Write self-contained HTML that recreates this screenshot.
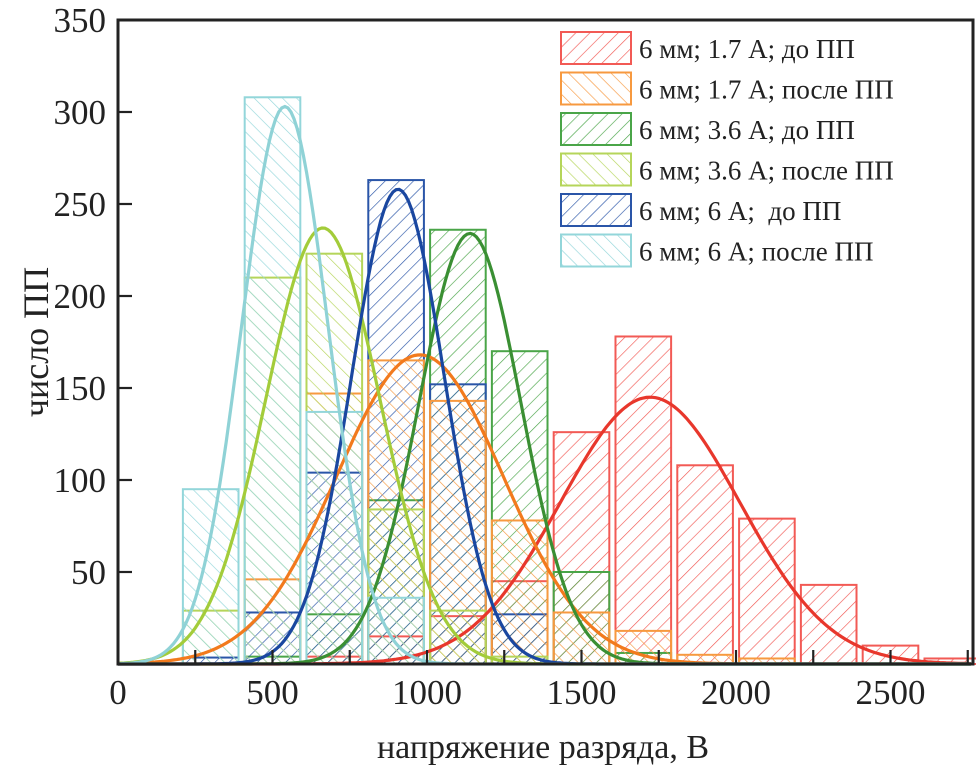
<!DOCTYPE html>
<html><head><meta charset="utf-8">
<style>
html,body{margin:0;padding:0;background:#fff;}
svg{display:block;font-family:"Liberation Serif",serif;}
</style></head>
<body>
<svg id="chart" width="976" height="772" viewBox="0 0 976 772" xmlns="http://www.w3.org/2000/svg">
<defs id="defs"></defs>
<g id="bars"></g>
<g id="curves"></g>
<g id="axes"></g>
<g id="legend"></g>
<text x="0" y="0" transform="translate(48,342) rotate(-90)" text-anchor="middle" font-size="36" fill="#222">число ПП</text>
<text x="543" y="758" text-anchor="middle" font-size="34" fill="#222">напряжение разряда, В</text>
</svg>
<script>
// ---- data ----
const binCenters = [300,500,700,900,1100,1300,1500,1700,1900,2100,2300,2500,2700];
const seriesNames = ["6 мм; 1.7 А; до ПП","6 мм; 1.7 А; после ПП","6 мм; 3.6 А; до ПП","6 мм; 3.6 А; после ПП","6 мм; 6 А;  до ПП","6 мм; 6 А; после ПП"];
const red1_7   = [0,0,4,15,26,45,126,178,108,79,43,10,3];
const orange1_7= [0,46,147,165,143,78,28,18,5,3,0,0,0];
const green3_6 = [0,4,27,89,236,170,50,6,0,0,0,0,0];
const lime3_6  = [29,210,223,84,29,4,0,0,0,0,0,0,0];
const blue6    = [3.5,28,104,263,152,27,0,0,0,0,0,0,0];
const cyan6    = [95,308,137,36,0,0,0,0,0,0,0,0,0];
// Gaussian fit parameters: mean, sigma, peak
const fitMeans  = [1722,977,1139,663,906,540];
const fitSigmas = [290,270,165,185,150,140];
const fitPeaks  = [145,168,234,237,258,303];
const xTicks = [0,500,1000,1500,2000,2500];
const yTicks = [50,100,150,200,250,300,350];

const NS="http://www.w3.org/2000/svg";
const X0=118, Y0=664, XS=0.309, YS=1.84, XR=973, YT=20;
const xp=v=>X0+v*XS, yp=v=>Y0-v*YS;
const seriesData=[red1_7,orange1_7,green3_6,lime3_6,blue6,cyan6];
const strokeCols=["#f25a55","#f7993f","#4aa548","#b5d55a","#2a55a8","#93d6da"];
const curveCols=["#e8372c","#f27a1d","#3a8f33","#a3cc3a","#1a47a0","#8fd2d6"];
const hatchDir=[1,-1,1,-1,1,-1];
function mk(tag,attrs,parent){const e=document.createElementNS(NS,tag);for(const k in attrs)e.setAttribute(k,attrs[k]);parent.appendChild(e);return e;}
const defs=document.getElementById('defs');
seriesData.forEach((s,i)=>{
  const p=mk('pattern',{id:'h'+i,patternUnits:'userSpaceOnUse',width:10,height:10,patternTransform:'rotate('+(hatchDir[i]>0?45:-45)+')'},defs);
  mk('line',{x1:0,y1:0,x2:0,y2:10,stroke:strokeCols[i],'stroke-width':1.3},p);
});
const bars=document.getElementById('bars');
const drawOrder=[0,2,4,1,3,5];
drawOrder.forEach(i=>{
  seriesData[i].forEach((v,j)=>{
    if(v<=0) return;
    const r=document.createElementNS(NS,'rect');
    
    
    r.setAttribute('x',xp(binCenters[j]-90));
    r.setAttribute('y',yp(v));
    r.setAttribute('width',180*XS);
    r.setAttribute('height',v*YS);
    r.setAttribute('fill','url(#h'+i+')');
    r.setAttribute('stroke',strokeCols[i]);
    r.setAttribute('stroke-width','2');
    bars.appendChild(r);
  });
});
const curves=document.getElementById('curves');
[0,1,2,3,4,5].forEach(i=>{
  let d='';
  for(let x=0;x<=2767;x+=10){
    const v=fitPeaks[i]*Math.exp(-Math.pow(x-fitMeans[i],2)/(2*fitSigmas[i]*fitSigmas[i]));
    d+=(x===0?'M':'L')+xp(x).toFixed(1)+','+yp(v).toFixed(1);
  }
  const p=document.createElementNS(NS,'path');
  
  
  p.setAttribute('d',d);p.setAttribute('fill','none');
  p.setAttribute('stroke',curveCols[i]);p.setAttribute('stroke-width','3.2');
  curves.appendChild(p);
});
const axes=document.getElementById('axes');
const frame=document.createElementNS(NS,'rect');


frame.setAttribute('x',X0);frame.setAttribute('y',YT);frame.setAttribute('width',XR-X0);frame.setAttribute('height',Y0-YT);
frame.setAttribute('fill','none');frame.setAttribute('stroke','#222');frame.setAttribute('stroke-width','3');
axes.appendChild(frame);
for(let v=250;v<2767;v+=250){
  const t=document.createElementNS(NS,'line');
  
  
  t.setAttribute('x1',xp(v));t.setAttribute('x2',xp(v));t.setAttribute('y1',Y0);t.setAttribute('y2',Y0-14);
  t.setAttribute('stroke','#222');t.setAttribute('stroke-width','2.2');axes.appendChild(t);
}
xTicks.forEach(v=>{
  const t=document.createElementNS(NS,'text');
  
  
  t.setAttribute('x',xp(v));t.setAttribute('y',704);t.setAttribute('text-anchor','middle');
  t.setAttribute('font-size','35');t.setAttribute('fill','#222');t.textContent=v;axes.appendChild(t);
});
yTicks.forEach(v=>{
  const l=document.createElementNS(NS,'line');
  
  
  l.setAttribute('x1',X0);l.setAttribute('x2',X0+14);l.setAttribute('y1',yp(v));l.setAttribute('y2',yp(v));
  l.setAttribute('stroke','#222');l.setAttribute('stroke-width','2.2');axes.appendChild(l);
  const t=document.createElementNS(NS,'text');
  
  
  t.setAttribute('x',106);t.setAttribute('y',yp(v)+12);t.setAttribute('text-anchor','end');
  t.setAttribute('font-size','35');t.setAttribute('fill','#222');t.textContent=v;axes.appendChild(t);
});
const legend=document.getElementById('legend');
seriesNames.forEach((n,i)=>{
  const y=32+i*40.5;
  const r=document.createElementNS(NS,'rect');
  
  
  r.setAttribute('x',561);r.setAttribute('y',y);r.setAttribute('width',70);r.setAttribute('height',32);
  r.setAttribute('fill','url(#h'+i+')');r.setAttribute('stroke',strokeCols[i]);r.setAttribute('stroke-width','2');
  legend.appendChild(r);
  const t=document.createElementNS(NS,'text');
  
  
  t.setAttribute('x',639);t.setAttribute('y',y+26);t.setAttribute('font-size','27');t.setAttribute('fill','#222');
  t.setAttribute('xml:space','preserve');t.style.whiteSpace='pre';
  t.textContent=n;legend.appendChild(t);
});
</script>
</body></html>
